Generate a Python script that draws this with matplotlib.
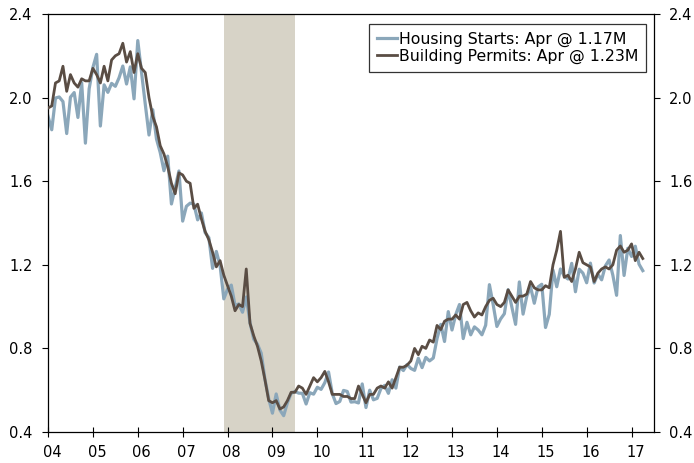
import matplotlib
matplotlib.use("Agg")
import matplotlib.pyplot as plt
import matplotlib.transforms as mtransforms
import numpy as np

# Monthly data, Jan 2004 - Apr 2017 (millions, SAAR)
start_year = 2004
housing_starts = [
    1.911, 1.846, 1.998, 2.003, 1.981, 1.828, 2.002, 2.024, 1.905, 2.072, 1.782, 2.042,
    2.144, 2.207, 1.864, 2.061, 2.025, 2.068, 2.054, 2.095, 2.151, 2.065, 2.147, 1.994,
    2.273, 2.119, 1.969, 1.821, 1.942, 1.802, 1.737, 1.650, 1.720, 1.491, 1.570, 1.649,
    1.409, 1.480, 1.495, 1.490, 1.415, 1.448, 1.354, 1.330, 1.183, 1.264, 1.197, 1.037,
    1.084, 1.103, 1.005, 1.013, 0.973, 1.046, 0.923, 0.844, 0.820, 0.777, 0.652, 0.560,
    0.490, 0.582, 0.505, 0.478, 0.540, 0.585, 0.594, 0.586, 0.585, 0.534, 0.588, 0.581,
    0.614, 0.604, 0.636, 0.687, 0.583, 0.536, 0.546, 0.599, 0.594, 0.543, 0.545, 0.539,
    0.630, 0.517, 0.600, 0.554, 0.561, 0.608, 0.623, 0.585, 0.650, 0.610, 0.711, 0.694,
    0.723, 0.704, 0.695, 0.753, 0.708, 0.757, 0.740, 0.754, 0.847, 0.915, 0.833, 0.976,
    0.888, 0.962, 1.010, 0.847, 0.925, 0.865, 0.903, 0.888, 0.865, 0.911, 1.105, 1.010,
    0.905, 0.941, 0.966, 1.081, 0.999, 0.915, 1.118, 0.964, 1.050, 1.094, 1.016, 1.094,
    1.107, 0.900, 0.963, 1.175, 1.095, 1.180, 1.146, 1.132, 1.207, 1.071, 1.179, 1.160,
    1.114, 1.208, 1.113, 1.155, 1.128, 1.195, 1.223, 1.150, 1.054, 1.340, 1.149, 1.279,
    1.240, 1.289, 1.203, 1.172,
]
building_permits = [
    1.95, 1.96, 2.07, 2.08, 2.15, 2.03, 2.11, 2.07, 2.05, 2.09, 2.08, 2.08,
    2.14, 2.11, 2.07, 2.15, 2.08, 2.18, 2.20, 2.21, 2.26, 2.17, 2.22, 2.12,
    2.21, 2.14, 2.12, 2.00, 1.91, 1.86, 1.77, 1.73, 1.67, 1.59, 1.54, 1.64,
    1.63, 1.60, 1.59, 1.47, 1.49, 1.42, 1.36, 1.32, 1.26, 1.19, 1.22, 1.15,
    1.10, 1.05, 0.98, 1.01, 1.00, 1.18, 0.92, 0.86, 0.81, 0.74, 0.65, 0.55,
    0.54, 0.55, 0.51, 0.52, 0.55, 0.59, 0.59, 0.62, 0.61, 0.58, 0.62, 0.66,
    0.64, 0.66, 0.69, 0.64, 0.58, 0.58, 0.58, 0.57, 0.57, 0.56, 0.56, 0.62,
    0.58, 0.54, 0.58, 0.58, 0.61, 0.62, 0.61, 0.64, 0.61, 0.66, 0.71, 0.71,
    0.72, 0.74, 0.80, 0.77, 0.81, 0.80, 0.84, 0.83, 0.91, 0.89, 0.93, 0.94,
    0.94, 0.96, 0.94, 1.01, 1.02, 0.98, 0.95, 0.97, 0.96, 1.00, 1.03, 1.04,
    1.01, 1.00, 1.02, 1.08, 1.05, 1.02, 1.05, 1.05, 1.06, 1.12, 1.09, 1.08,
    1.08, 1.10, 1.09, 1.20, 1.27, 1.36, 1.14, 1.15, 1.12, 1.18, 1.26, 1.21,
    1.20, 1.19, 1.12, 1.16, 1.18, 1.19, 1.18, 1.20, 1.27, 1.29, 1.26, 1.27,
    1.30, 1.22, 1.26, 1.23,
]
series_labels = ["Housing Starts: Apr @ 1.17M", "Building Permits: Apr @ 1.23M"]
recession = (2007 + 11 / 12, 2009.5)
year_ticks = list(range(2004, 2018))
year_labels = [f"{y % 100:02d}" for y in year_ticks]
y_ticks = [0.4, 0.8, 1.2, 1.6, 2.0, 2.4]

x = start_year + np.arange(len(housing_starts)) / 12.0

plt.rcParams['font.family'] = ['DejaVu Sans']
fig = plt.figure(figsize=(6.94, 4.63), dpi=100)
ax = fig.add_axes([48 / 694, 1 - 432 / 463, (654 - 48) / 694, (432 - 14) / 463])

ax.axvspan(recession[0], recession[1], color='#D7D3C7', lw=0, zorder=0)
ax.plot(x, housing_starts, color='#8BA7BA', lw=2.3, label=series_labels[0], zorder=2)
ax.plot(x, building_permits, color='#5A4D44', lw=2.0, label=series_labels[1], zorder=3)

ax.set_xlim(2004, 2017.5)
ax.set_ylim(0.4, 2.4)
ax.set_xticks(year_ticks)
ax.set_xticklabels(year_labels)
ax.set_yticks(y_ticks)
ax.set_yticklabels([f"{v:.1f}" for v in y_ticks])

ax.tick_params(axis='y', direction='out', length=4, width=0.8, labelsize=10.5,
               left=True, right=True, labelleft=True, labelright=True, pad=7)
ax.tick_params(axis='x', direction='inout', length=6.5, width=0.8, labelsize=10.5, pad=6)
for s in ax.spines.values():
    s.set_linewidth(0.9)
    s.set_color('black')

offset = mtransforms.ScaledTranslation(0.04, 0, fig.dpi_scale_trans)
for lab in ax.get_xticklabels():
    lab.set_transform(lab.get_transform() + offset)

# legend box: right edge at x=646 px, top at y=24 px
leg = ax.legend(loc='upper right', bbox_to_anchor=((646 - 48) / 606, 1 - 10 / 418),
                fontsize=11.3, frameon=True, fancybox=False, edgecolor='black',
                handlelength=1.3, handletextpad=0.1, labelspacing=0.12, borderpad=0.5,
                borderaxespad=0)
leg.get_frame().set_linewidth(0.9)

fig.savefig("out.png", dpi=100)
